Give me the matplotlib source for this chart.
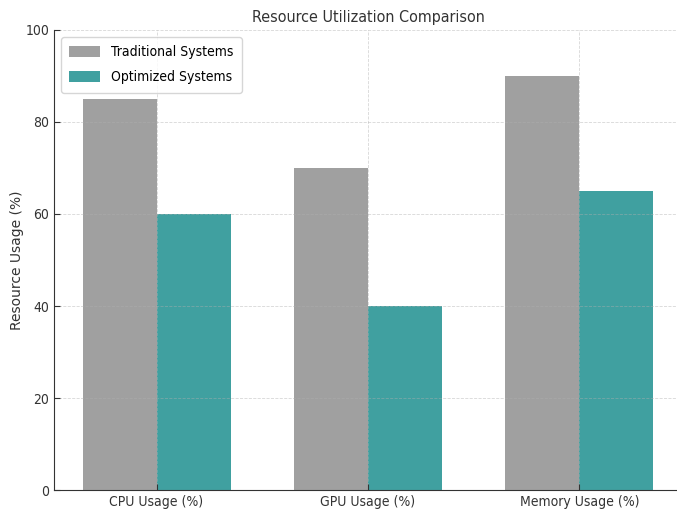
import numpy as np
import matplotlib
matplotlib.use("Agg")
import matplotlib.pyplot as plt

categories = ["CPU Usage (%)", "GPU Usage (%)", "Memory Usage (%)"]
traditional = [85, 70, 90]
optimized = [60, 40, 65]

plt.rcParams["font.family"] = ["DejaVu Sans"]
plt.rcParams["font.stretch"] = "condensed"

fig = plt.figure(figsize=(6.77, 5.12), dpi=100)
ax = fig.add_axes([54 / 677, 22 / 512, 628 / 677, 460 / 512])

x = np.arange(len(categories))
width = 0.35
ax.bar(x - width / 2, traditional, width, label="Traditional Systems", color="gray", alpha=0.75)
ax.bar(x + width / 2, optimized, width, label="Optimized Systems", color="teal", alpha=0.75)

ax.set_title("Resource Utilization Comparison", fontsize=11.5, color="#333333")
ax.set_ylabel("Resource Usage (%)", fontsize=10, color="#333333", fontstretch="normal")
ax.yaxis.set_label_coords(-0.047, 0.5)
ax.set_xticks(x)
ax.set_xticklabels(categories)
ax.set_ylim(0, 100)
ax.tick_params(direction="in", labelsize=10, colors="#333333", length=4)
ax.grid(True, linestyle="--", linewidth=0.6, alpha=0.5)
for side in ["top", "right"]:
    ax.spines[side].set_visible(False)
for side in ["left", "bottom"]:
    ax.spines[side].set_color("#333333")

ax.legend(loc="upper left", fontsize=10, handlelength=2.2, handleheight=0.8,
          borderpad=0.6, labelspacing=0.8)

fig.savefig("out.png", dpi=100)
